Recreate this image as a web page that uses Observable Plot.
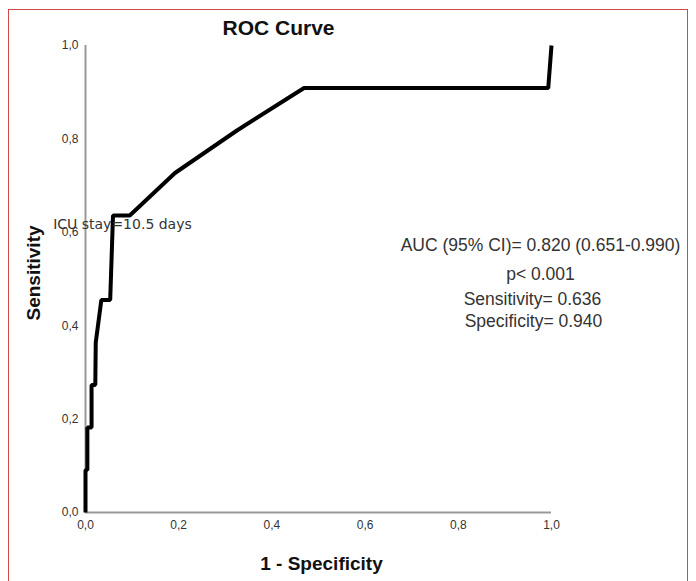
<!DOCTYPE html>
<html>
<head>
<meta charset="utf-8">
<script src="https://cdn.jsdelivr.net/npm/d3@7"></script>
<script src="https://cdn.jsdelivr.net/npm/@observablehq/plot@0.6"></script>
<style>
  html, body { margin: 0; padding: 0; background: #fff; }
  #wrap { position: relative; width: 696px; height: 581px; overflow: hidden; }
  #border { position: absolute; left: 8px; top: 9px; width: 680px; height: 590px; border: 1px solid #d04848; box-sizing: border-box; pointer-events: none; }
  #chart { position: absolute; left: 0; top: 0; }
</style>
</head>
<body>
<div id="wrap">
  <div id="chart"></div>
  <div id="border"></div>
</div>
<script>
// ROC curve points (1 - specificity, sensitivity)
const fpr = [0, 0, 0.004, 0.004, 0.013, 0.013, 0.021, 0.022, 0.034, 0.053, 0.059, 0.095, 0.192, 0.325, 0.469, 0.993, 1.0];
const tpr = [0, 0.091, 0.091, 0.182, 0.182, 0.273, 0.273, 0.364, 0.455, 0.455, 0.636, 0.636, 0.727, 0.818, 0.909, 0.909, 1.0];

const ticks = [0, 0.2, 0.4, 0.6, 0.8, 1.0];
const titleText = "ROC Curve";
const xLabel = "1 - Specificity";
const yLabel = "Sensitivity";
const cutoffPoint = {fpr: 0.06, tpr: 0.636};
const cutoffLabel = "ICU stay=10.5 days";
const statsLines = [
  "AUC (95% CI)= 0.820 (0.651-0.990)",
  "p< 0.001",
  "Sensitivity= 0.636",
  "Specificity= 0.940"
];

const roc = fpr.map((x, i) => ({x, y: tpr[i]}));
const fmt = d => d.toFixed(1).replace(".", ",");
const arial = "'Liberation Sans', Arial, sans-serif";

const statsPos = [[455, 200], [455, 229], [447, 254], [448, 276]];

const chart = Plot.plot({
  width: 696,
  height: 581,
  marginLeft: 85,
  marginRight: 145,
  marginTop: 45,
  marginBottom: 69,
  style: {fontFamily: arial, background: "transparent", overflow: "visible"},
  x: {domain: [0, 1], ticks: ticks, tickFormat: fmt},
  y: {domain: [0, 1], ticks: ticks, tickFormat: fmt},
  marks: [
    Plot.axisX({ticks, tickFormat: fmt, tickSize: 0, tickPadding: 8, fontSize: 12, fill: "#333", label: null}),
    Plot.axisY({ticks, tickFormat: fmt, tickSize: 0, tickPadding: 7, fontSize: 12, fill: "#333", label: null}),
    Plot.ruleY([0], {stroke: "#999", strokeWidth: 2}),
    Plot.ruleX([0], {stroke: "#999", strokeWidth: 2}),
    Plot.line(roc, {x: "x", y: "y", stroke: "#000", strokeWidth: 4, strokeLinejoin: "miter", strokeLinecap: "butt"}),
    Plot.text([cutoffPoint], {x: "fpr", y: "tpr", text: () => cutoffLabel, dx: 9, dy: 9,
      fontFamily: "'DejaVu Sans', Verdana, sans-serif", fontSize: 14, fill: "#333"}),
    ...statsLines.map((s, i) => Plot.text([s], {text: d => d, frameAnchor: "top-left",
      dx: statsPos[i][0], dy: statsPos[i][1], textAnchor: "middle", lineAnchor: "middle",
      fontSize: 17.5, fill: "#333"})),
    Plot.text([titleText], {text: d => d, frameAnchor: "top-left", dx: 193, dy: -17,
      textAnchor: "middle", lineAnchor: "middle", fontSize: 21, fontWeight: "bold", fill: "#111"}),
    Plot.text([xLabel], {text: d => d, frameAnchor: "bottom", dx: 3, dy: 51,
      textAnchor: "middle", lineAnchor: "middle", fontSize: 19, fontWeight: "bold", fill: "#111"}),
    Plot.text([yLabel], {text: d => d, frameAnchor: "left", dx: -52, dy: -6, rotate: -90,
      textAnchor: "middle", lineAnchor: "middle", fontSize: 19, fontWeight: "bold", fill: "#111"})
  ]
});
document.getElementById("chart").appendChild(chart);
</script>
</body>
</html>
